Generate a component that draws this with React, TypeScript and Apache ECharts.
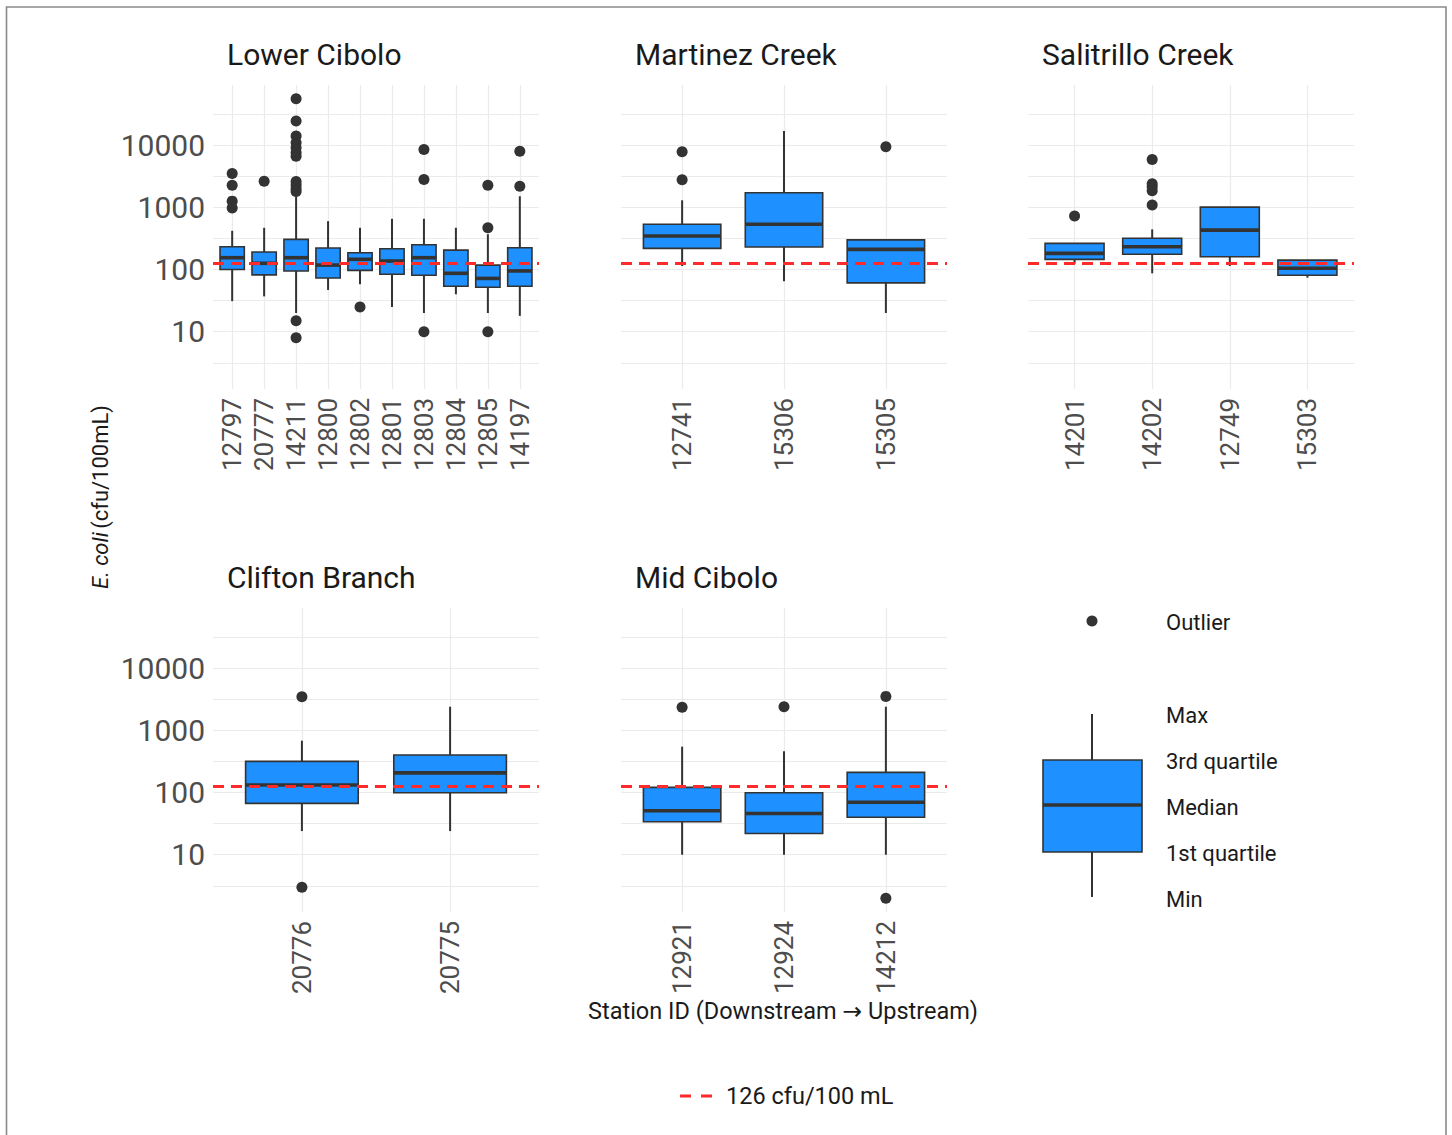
import React, { useEffect, useRef } from 'react';
import * as echarts from 'echarts';

const FONT = "Roboto, 'Noto Sans', 'DejaVu Sans', sans-serif";

// Stations per reach, ordered downstream → upstream
const lowerCiboloStations = ['12797', '20777', '14211', '12800', '12802', '12801', '12803', '12804', '12805', '14197'];
const martinezStations = ['12741', '15306', '15305'];
const salitrilloStations = ['14201', '14202', '12749', '15303'];
const cliftonStations = ['20776', '20775'];
const midCiboloStations = ['12921', '12924', '14212'];

// Five-number summaries per station: [min, Q1, median, Q3, max] in cfu/100 mL
const lowerCiboloStats = [
  [31, 100, 155, 233, 420],
  [37, 82, 126, 191, 470],
  [20, 95, 155, 306, 1500],
  [47, 73, 118, 222, 600],
  [58, 97, 146, 186, 470],
  [25, 84, 137, 216, 656],
  [20, 81, 155, 250, 656],
  [40, 54, 87, 205, 470],
  [20, 52, 72, 118, 370],
  [18, 54, 95, 224, 1510],
];
const martinezStats = [
  [114, 219, 346, 534, 1300],
  [65, 230, 534, 1720, 16900],
  [20, 61, 211, 300, 300],
];
const salitrilloStats = [
  [124, 146, 182, 264, 264],
  [87, 176, 233, 318, 443],
  [114, 161, 431, 1010, 1010],
  [74, 81, 105, 142, 142],
];
const cliftonStats = [
  [24, 67, 132, 317, 683],
  [24, 99, 207, 402, 2400],
];
const midCiboloStats = [
  [10, 34, 51, 121, 547],
  [10, 22, 46, 99, 460],
  [10, 40, 70, 211, 2400],
];

// Outlying samples per station, cfu/100 mL
const lowerCiboloOutliers = [
  [3500, 2260, 1260, 980],
  [2640],
  [55700, 24400, 14000, 10900, 9100, 7600, 6650, 2600, 2300, 2000, 1800, 15, 8],
  [],
  [25],
  [],
  [8550, 2800, 10],
  [],
  [2260, 470, 10],
  [8000, 2190],
];
const martinezOutliers = [[7830, 2790], [], [9440]];
const salitrilloOutliers = [[725], [5900, 2400, 2150, 1850, 1090], [], []];
const cliftonOutliers = [[3480, 3], []];
const midCiboloOutliers = [[2350], [2400], [3520, 2]];

// Recreational contact standard
const THRESHOLD = 126;
const THRESHOLD_LABEL = '126 cfu/100 mL';
const Y_TICK_VALUES = [10, 100, 1000, 10000];

const reaches = [
  { name: 'Lower Cibolo', stations: lowerCiboloStations, stats: lowerCiboloStats, outliers: lowerCiboloOutliers },
  { name: 'Martinez Creek', stations: martinezStations, stats: martinezStats, outliers: martinezOutliers },
  { name: 'Salitrillo Creek', stations: salitrilloStations, stats: salitrilloStats, outliers: salitrilloOutliers },
  { name: 'Clifton Branch', stations: cliftonStations, stats: cliftonStats, outliers: cliftonOutliers },
  { name: 'Mid Cibolo', stations: midCiboloStations, stats: midCiboloStats, outliers: midCiboloOutliers },
];

// Panel placement on the page
const PANEL_LAYOUT = [
  { left: 213, top: 85, yLabels: true },
  { left: 621, top: 85, yLabels: false },
  { left: 1028, top: 85, yLabels: false },
  { left: 213, top: 608, yLabels: true },
  { left: 621, top: 608, yLabels: false },
];
const PANEL_W = 326;
const PANEL_H = 304;
const BOX_WIDTH = 0.76;

const BOX_FILL = '#1E90FF';
const INK = '#333333';
const GRID = '#ebebeb';
const RED = '#FF2A2A';
const TEXT = '#1a1a1a';
const TICK_TEXT = '#4d4d4d';

const log10 = (v: number) => Math.log10(v);

// Shared log-scale extent with a 5% expansion on each side
const allValues: number[] = [];
reaches.forEach((r) => {
  r.stats.forEach((s) => allValues.push(...s));
  r.outliers.forEach((o) => allValues.push(...o));
});
const dataLo = log10(Math.min(...allValues));
const dataHi = log10(Math.max(...allValues));
const pad = (dataHi - dataLo) * 0.05;
const Y_MIN = dataLo - pad;
const Y_MAX = dataHi + pad;

const majorTicks = Y_TICK_VALUES.map(log10);
const gridTicks = [majorTicks[0] - 0.5, ...majorTicks.flatMap((t) => [t, t + 0.5])].filter(
  (t) => t > Y_MIN && t < Y_MAX
);

function renderBox(params: any, api: any) {
  const x = api.value(0);
  const lo = api.coord([x, api.value(1)]);
  const q1 = api.coord([x, api.value(2)]);
  const md = api.coord([x, api.value(3)]);
  const q3 = api.coord([x, api.value(4)]);
  const hi = api.coord([x, api.value(5)]);
  const half = api.size([BOX_WIDTH, 0])[0] / 2;
  const whisker = { stroke: INK, lineWidth: 2 };
  return {
    type: 'group',
    children: [
      { type: 'line', shape: { x1: lo[0], y1: lo[1], x2: q1[0], y2: q1[1] }, style: whisker },
      { type: 'line', shape: { x1: q3[0], y1: q3[1], x2: hi[0], y2: hi[1] }, style: whisker },
      {
        type: 'rect',
        shape: { x: q3[0] - half, y: q3[1], width: half * 2, height: q1[1] - q3[1] },
        style: { fill: BOX_FILL, stroke: INK, lineWidth: 1.6 },
      },
      {
        type: 'line',
        shape: { x1: md[0] - half, y1: md[1], x2: md[0] + half, y2: md[1] },
        style: { stroke: INK, lineWidth: 3.6 },
      },
    ],
  };
}

function buildOption() {
  const series: any[] = [];
  reaches.forEach((r, i) => {
    series.push({
      type: 'custom',
      name: r.name,
      xAxisIndex: i,
      yAxisIndex: i,
      z: 2,
      renderItem: renderBox,
      encode: { x: 0, y: [1, 2, 3, 4, 5] },
      data: r.stats.map((s, k) => [k, ...s.map(log10)]),
      silent: true,
    });
    series.push({
      type: 'scatter',
      name: r.name + ' outliers',
      xAxisIndex: i,
      yAxisIndex: i,
      z: 3,
      symbol: 'circle',
      symbolSize: 11,
      itemStyle: { color: INK, opacity: 1 },
      data: r.outliers.flatMap((o, k) => o.map((v) => [k, log10(v)])),
      silent: true,
    });
    series.push({
      type: 'line',
      name: THRESHOLD_LABEL,
      xAxisIndex: i,
      yAxisIndex: i,
      z: 4,
      symbol: 'none',
      data: [],
      itemStyle: { color: RED },
      lineStyle: { color: RED, width: 3, type: [11, 10] },
      markLine: {
        silent: true,
        symbol: ['none', 'none'],
        label: { show: false },
        lineStyle: { color: RED, width: 3, type: [11, 7] },
        data: [{ yAxis: log10(THRESHOLD) }],
      },
    });
  });

  const keyX = 1092;
  const keyText = (text: string, y: number) => ({
    type: 'text',
    x: 1166,
    y,
    style: { text, fill: TEXT, font: `22px ${FONT}`, align: 'left', verticalAlign: 'middle' },
  });

  return {
    animation: false,
    textStyle: { fontFamily: FONT },
    title: reaches.map((r, i) => ({
      text: r.name,
      left: PANEL_LAYOUT[i].left + 14,
      top: PANEL_LAYOUT[i].top - 46,
      padding: 0,
      textStyle: { fontSize: 30, fontWeight: 'normal', color: TEXT, fontFamily: FONT },
    })),
    grid: PANEL_LAYOUT.map((p) => ({
      left: p.left,
      top: p.top,
      width: PANEL_W,
      height: PANEL_H,
      containLabel: false,
      outerBoundsMode: 'none',
    })),
    xAxis: reaches.map((r, i) => {
      const idx = r.stations.map((_, k) => k);
      return {
        type: 'value',
        gridIndex: i,
        min: -0.6,
        max: r.stations.length - 0.4,
        axisLine: { show: false },
        axisTick: { show: false, customValues: idx },
        axisLabel: {
          customValues: idx,
          formatter: (v: number) => r.stations[Math.round(v)] ?? '',
          rotate: 90,
          fontSize: 26,
          color: TICK_TEXT,
          margin: 9,
          fontFamily: FONT,
        },
        splitLine: { show: true, lineStyle: { color: GRID, width: 1.2 } },
      };
    }),
    yAxis: PANEL_LAYOUT.map((p, i) => ({
      type: 'value',
      gridIndex: i,
      min: Y_MIN,
      max: Y_MAX,
      axisLine: { show: false },
      axisTick: { show: false, customValues: gridTicks },
      axisLabel: {
        show: p.yLabels,
        customValues: majorTicks,
        formatter: (v: number) => String(Math.round(Math.pow(10, v))),
        fontSize: 30,
        color: TICK_TEXT,
        margin: 8,
        fontFamily: FONT,
      },
      splitLine: { show: true, lineStyle: { color: GRID, width: 1.2 } },
    })),
    legend: {
      data: [{ name: THRESHOLD_LABEL, icon: 'path://M0,0H11V3H0Z M21,0H32V3H21Z' }],
      left: 680,
      top: 1084,
      padding: 0,
      itemWidth: 32,
      itemHeight: 14,
      textStyle: { fontSize: 23.5, color: TEXT, fontFamily: FONT, padding: [0, 0, 0, 9] },
      selectedMode: false,
    },
    graphic: [
      {
        type: 'rect',
        silent: true,
        z: -10,
        shape: { x: 6.5, y: 7, width: 1439.5, height: 1200 },
        style: { fill: 'none', stroke: '#8a8a8a', lineWidth: 1.6 },
      },
      {
        type: 'text',
        x: 100,
        y: 497,
        rotation: Math.PI / 2,
        style: {
          text: '{i|E. coli} {n|(cfu/100mL)}',
          align: 'center',
          verticalAlign: 'middle',
          fill: TEXT,
          rich: {
            i: { fontStyle: 'italic', fontSize: 22, fontFamily: FONT, fill: TEXT },
            n: { fontSize: 22, fontFamily: FONT, fill: TEXT },
          },
        },
      },
      {
        type: 'text',
        x: 783,
        y: 1011,
        style: {
          text: 'Station ID (Downstream \u2192 Upstream)',
          font: `23.5px ${FONT}`,
          fill: TEXT,
          align: 'center',
          verticalAlign: 'middle',
        },
      },
      // Box-plot key
      { type: 'circle', shape: { cx: keyX, cy: 621, r: 5.5 }, style: { fill: INK } },
      { type: 'line', shape: { x1: keyX, y1: 714, x2: keyX, y2: 760 }, style: { stroke: INK, lineWidth: 2 } },
      { type: 'line', shape: { x1: keyX, y1: 852, x2: keyX, y2: 897 }, style: { stroke: INK, lineWidth: 2 } },
      {
        type: 'rect',
        shape: { x: 1043, y: 760, width: 99, height: 92 },
        style: { fill: BOX_FILL, stroke: INK, lineWidth: 1.6 },
      },
      { type: 'line', shape: { x1: 1043, y1: 805, x2: 1142, y2: 805 }, style: { stroke: INK, lineWidth: 3.6 } },
      keyText('Outlier', 622),
      keyText('Max', 715),
      keyText('3rd quartile', 761),
      keyText('Median', 807),
      keyText('1st quartile', 853),
      keyText('Min', 899),
    ],
    series,
  };
}

export default function App() {
  const ref = useRef<HTMLDivElement>(null);
  useEffect(() => {
    if (!ref.current) return;
    const chart = echarts.init(ref.current, undefined, { renderer: 'svg' });
    chart.setOption(buildOption() as any);
    return () => chart.dispose();
  }, []);
  return (
    <div
      ref={ref}
      style={{ position: 'absolute', left: 0, top: 0, width: 1452, height: 1135, background: '#ffffff' }}
    />
  );
}
